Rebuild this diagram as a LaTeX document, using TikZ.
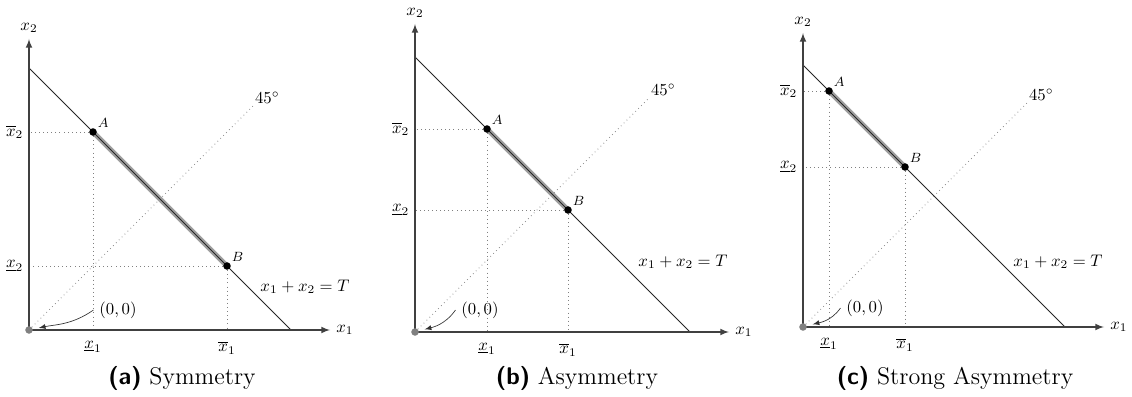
\documentclass[tikz,border=0pt]{standalone}
\usepackage{amsmath, amssymb}
\usepackage{xcolor}
\usepackage{tikz}
\usetikzlibrary{calc, positioning}

\begin{document}
\begin{tikzpicture}[>=latex, x=0.021cm, y=0.021cm,
    axis/.style={->, line width=0.8pt, draw=black!75},
    budget/.style={line width=0.45pt, black!85},
    share/.style={line width=3pt, gray!75},
    guide/.style={dotted, gray, line width=0.45pt},
    diag/.style={dotted, draw=gray!90, line width=0.45pt},
    endpt/.style={circle, fill=black, inner sep=0pt, minimum size=4.5pt},
    orig/.style={circle, fill=gray, inner sep=0pt, minimum size=4.5pt},
    ptlabel/.style={font=\footnotesize, inner sep=1pt},
    caption/.style={font=\Large}]
    \useasboundingbox (0,0) rectangle (1132,396);

    % (a) Symmetrie
    \begin{scope}[shift={(29,66)}]
        \coordinate (O) at (0,0);
        \coordinate (Xend) at (301,0);
        \coordinate (Yend) at (0,291);
        \coordinate (Tx) at (262,0);
        \coordinate (Ty) at (0,262);
        \coordinate (D) at (224,224);
        \coordinate (A) at (64,198);
        \coordinate (B) at (198,64);
        % Hilfslinien
        \draw[guide] (A) -- (O |- A);
        \draw[guide] (A) -- (A |- O);
        \draw[guide] (B) -- (O |- B);
        \draw[guide] (B) -- (B |- O);
        \draw[diag] (O) -- (D) node[above right, inner sep=1pt, text=black] {$45^\circ$};
        \draw[share] (A) -- (B);
        \draw[budget] (Ty) -- (Tx);
        \node (Tlab) at (276,43) {$x_1+x_2=T$};
        % Achsen
        \draw[axis] (O) -- (Xend) node[right, text=black] {$x_1$};
        \draw[axis] (O) -- (Yend) node[above, text=black] {$x_2$};
        \node[left] (xb2) at (O |- A) {$\overline{x}_2$};
        \node[left] (xu2) at (O |- B) {$\underline{x}_2$};
        \node[below=3pt] (xu1) at (A |- O) {$\underline{x}_1$};
        \node[below=3pt] (xb1) at (B |- O) {$\overline{x}_1$};
        \node (zero) at (89,20) {$(0,0)$};
        \draw[->, line width=0.4pt, black!80, shorten >=6pt] (zero.west) to[out=215, in=12] (O);
        \node[endpt, label={[ptlabel]above right:$A$}] (Adot) at (A) {};
        \node[endpt, label={[ptlabel]above right:$B$}] (Bdot) at (B) {};
        \node[orig] (Odot) at (O) {};
        \node[caption] (capa) at (153,-48) {\textsf{\textbf{(a)}} Symmetry};
    \end{scope}

    % (b) Asymmetrie
    \begin{scope}[shift={(415,64)}]
        \coordinate (O) at (0,0);
        \coordinate (Xend) at (314,0);
        \coordinate (Yend) at (0,308);
        \coordinate (Tx) at (275,0);
        \coordinate (Ty) at (0,275);
        \coordinate (D) at (234,234);
        \coordinate (A) at (72,203);
        \coordinate (B) at (153,122);
        % Hilfslinien
        \draw[guide] (A) -- (O |- A);
        \draw[guide] (A) -- (A |- O);
        \draw[guide] (B) -- (O |- B);
        \draw[guide] (B) -- (B |- O);
        \draw[diag] (O) -- (D) node[above right, inner sep=1pt, text=black] {$45^\circ$};
        \draw[share] (A) -- (B);
        \draw[budget] (Ty) -- (Tx);
        \node (Tlab) at (268,70) {$x_1+x_2=T$};
        % Achsen
        \draw[axis] (O) -- (Xend) node[right, text=black] {$x_1$};
        \draw[axis] (O) -- (Yend) node[above, text=black] {$x_2$};
        \node[left] (xb2) at (O |- A) {$\overline{x}_2$};
        \node[left] (xu2) at (O |- B) {$\underline{x}_2$};
        \node[below=3pt] (xu1) at (A |- O) {$\underline{x}_1$};
        \node[below=3pt] (xb1) at (B |- O) {$\overline{x}_1$};
        \node (zero) at (65,22) {$(0,0)$};
        \draw[->, line width=0.4pt, black!80, shorten >=6pt] (zero.west) to[out=235, in=15] (O);
        \node[endpt, label={[ptlabel]above right:$A$}] (Adot) at (A) {};
        \node[endpt, label={[ptlabel]above right:$B$}] (Bdot) at (B) {};
        \node[orig] (Odot) at (O) {};
        \node[caption] (capb) at (162,-46) {\textsf{\textbf{(b)}} Asymmetry};
    \end{scope}

    % (c) starke Asymmetrie
    \begin{scope}[shift={(803,69)}]
        \coordinate (O) at (0,0);
        \coordinate (Xend) at (301,0);
        \coordinate (Yend) at (0,294);
        \coordinate (Tx) at (262,0);
        \coordinate (Ty) at (0,262);
        \coordinate (D) at (224,224);
        \coordinate (A) at (26,236);
        \coordinate (B) at (102,160);
        % Hilfslinien
        \draw[guide] (A) -- (O |- A);
        \draw[guide] (A) -- (A |- O);
        \draw[guide] (B) -- (O |- B);
        \draw[guide] (B) -- (B |- O);
        \draw[diag] (O) -- (D) node[above right, inner sep=1pt, text=black] {$45^\circ$};
        \draw[share] (A) -- (B);
        \draw[budget] (Ty) -- (Tx);
        \node (Tlab) at (255,65) {$x_1+x_2=T$};
        % Achsen
        \draw[axis] (O) -- (Xend) node[right, text=black] {$x_1$};
        \draw[axis] (O) -- (Yend) node[above, text=black] {$x_2$};
        \node[left] (xb2) at (O |- A) {$\overline{x}_2$};
        \node[left] (xu2) at (O |- B) {$\underline{x}_2$};
        \node[below=3pt] (xu1) at (A |- O) {$\underline{x}_1$};
        \node[below=3pt] (xb1) at (B |- O) {$\overline{x}_1$};
        \node (zero) at (62,19) {$(0,0)$};
        \draw[->, line width=0.4pt, black!80, shorten >=6pt] (zero.west) to[out=235, in=15] (O);
        \node[endpt, label={[ptlabel]above right:$A$}] (Adot) at (A) {};
        \node[endpt, label={[ptlabel]above right:$B$}] (Bdot) at (B) {};
        \node[orig] (Odot) at (O) {};
        \node[caption] (capc) at (152,-51) {\textsf{\textbf{(c)}} Strong Asymmetry};
    \end{scope}
\end{tikzpicture}
\end{document}
